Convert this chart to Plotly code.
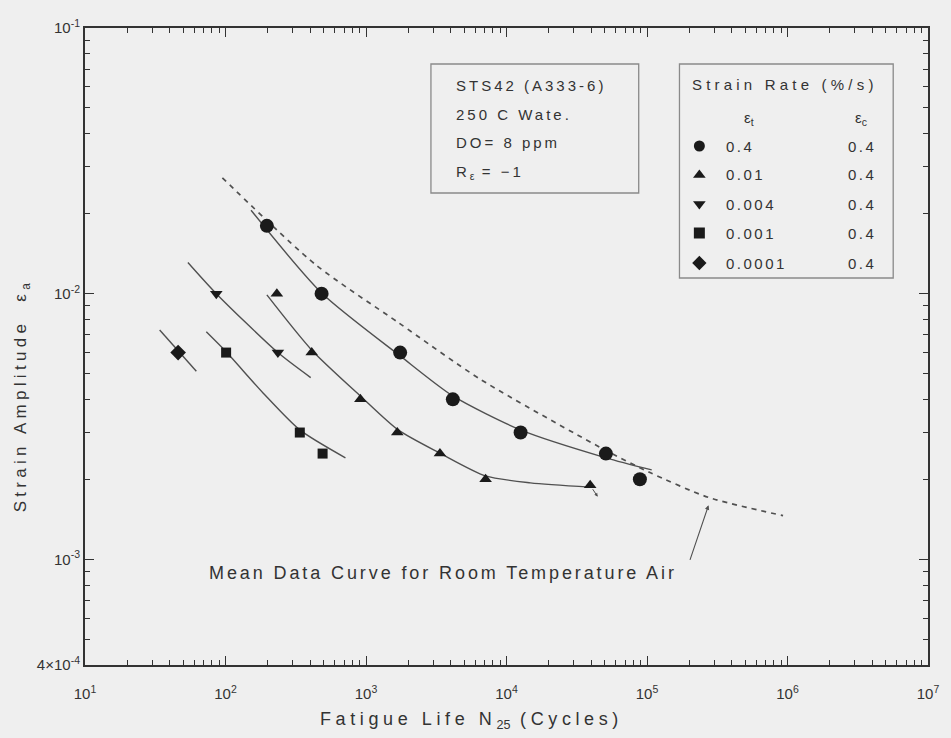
import math
import plotly.graph_objects as go

# ---------------- data ----------------
circ_x = [197, 483, 1750, 4150, 12600, 51000, 89000]
circ_y = [0.018, 0.010, 0.006, 0.004, 0.003, 0.0025, 0.002]
up_x = [232, 411, 912, 1670, 3360, 7100, 39400]
up_y = [0.010, 0.006, 0.004, 0.003, 0.0025, 0.002, 0.0019]
down_x = [86, 236]
down_y = [0.010, 0.006]
sq_x = [101, 338, 491]
sq_y = [0.006, 0.003, 0.0025]
dia_x = [46]
dia_y = [0.006]

circ_fit_x = [152, 483, 1750, 4150, 12560, 51000, 108000]
circ_fit_y = [0.0206, 0.01006, 0.00583, 0.00412, 0.00307, 0.00241, 0.00217]
up_fit_x = [197, 410, 912, 1694, 3357, 7100, 14790, 39300]
up_fit_y = [0.00989, 0.00614, 0.00412, 0.00307, 0.00251, 0.00206, 0.00194, 0.00187]
down_fit_x = [54, 86, 236, 404]
down_fit_y = [0.0131, 0.010, 0.006, 0.00483]
sq_fit_x = [73, 101, 185, 338, 714]
sq_fit_y = [0.00718, 0.00604, 0.00423, 0.00307, 0.00241]
dia_fit_x = [34, 62]
dia_fit_y = [0.0073, 0.0051]

air_x = [95, 438, 1700, 6560, 49500, 105000, 274000, 930000]
air_y = [0.0273, 0.01285, 0.00778, 0.00475, 0.00259, 0.00212, 0.00171, 0.00146]

# run-out mark (end of arrow below last triangle) and pointer arrow tip on the air curve
runout_x, runout_y = 44600, 0.00172
pointer_x, pointer_y = 274000, 0.00171

legend_rates_t = ["0.4", "0.01", "0.004", "0.001", "0.0001"]
legend_rates_c = ["0.4", "0.4", "0.4", "0.4", "0.4"]
legend_symbols = ["circle", "triangle-up", "triangle-down", "square", "diamond"]

x_decades = [1, 2, 3, 4, 5, 6, 7]
x_ticklabels = ["10<sup>1</sup>", "10<sup>2</sup>", "10<sup>3</sup>", "10<sup>4</sup>",
                "10<sup>5</sup>", "10<sup>6</sup>", "10<sup>7</sup>"]
y_tickvals = [4e-4, 1e-3, 1e-2, 1e-1]
y_ticklabels = ["4×10<sup>-4</sup>", "10<sup>-3</sup>", "10<sup>-2</sup>", "10<sup>-1</sup>"]

# ---------------- style ----------------
BG = "#efefef"
INK = "#333333"
LINE = "#505050"
MK = "#1a1a1a"
FONT = "Liberation Sans"

def sp(t, ls=2):
    return f'<span style="letter-spacing:{ls}px">{t}</span>'

info_lines = [sp("STS42 (A333-6)", 3.0), sp("250 C Wate.", 3.0), sp("DO= 8 ppm", 3.0),
              sp("R", 3.0) + "<sub>ε</sub>" + sp(" = −1", 3.0)]

fig = go.Figure()

def line(xs, ys, dash="solid", width=1.4, smooth=0.7):
    fig.add_trace(go.Scatter(x=xs, y=ys, mode="lines",
                             line=dict(color=LINE, width=width, dash=dash, shape="spline", smoothing=smooth),
                             showlegend=False, hoverinfo="skip"))

line(air_x, air_y, dash="5px,5px", width=1.7)
line(circ_fit_x, circ_fit_y)
line(up_fit_x, up_fit_y)
line(down_fit_x, down_fit_y)
line(sq_fit_x, sq_fit_y)
line(dia_fit_x, dia_fit_y)

def pts(xs, ys, sym, size):
    fig.add_trace(go.Scatter(x=xs, y=ys, mode="markers",
                             marker=dict(symbol=sym, size=size, color=MK, line=dict(width=0)),
                             showlegend=False))

pts(circ_x, circ_y, "circle", 14)
pts(up_x, up_y, "triangle-up", 11)
pts(down_x, down_y, "triangle-down", 11)
pts(sq_x, sq_y, "square", 10)
pts(dia_x, dia_y, "diamond", 12)

# minor ticks
x_minor = [m * 10 ** d for d in range(1, 7) for m in range(2, 10)]
y_minor = [m * 10 ** d for d in (-4, -3, -2) for m in range(1, 10) if 4e-4 < m * 10 ** d < 1e-1]

axis_common = dict(ticks="inside", ticklen=9, tickwidth=1.2, tickcolor=INK, showgrid=False, zeroline=False,
                   showline=True, linecolor=INK, linewidth=2, mirror="ticks",
                   tickfont=dict(family=FONT, size=15, color=INK))
fig.update_xaxes(type="log", range=[1, 7], tickvals=[10 ** d for d in x_decades], ticktext=x_ticklabels,
                 minor=dict(tickvals=x_minor, ticks="inside", ticklen=5, tickcolor=INK, showgrid=False),
                 ticklabelstandoff=14, **axis_common)
fig.update_yaxes(type="log", range=[math.log10(4e-4), -1], tickvals=y_tickvals, ticktext=y_ticklabels,
                 minor=dict(tickvals=y_minor, ticks="inside", ticklen=5, tickcolor=INK, showgrid=False),
                 **axis_common)

X0, X1, Y0, Y1 = 85, 933, 28, 665
W, H = 951, 738

def px(xp, yp):
    return (xp - X0) / (X1 - X0), (Y1 - yp) / (Y1 - Y0)

ann = []
def text(t, xp, yp, size=14, xanchor="left"):
    x, y = px(xp, yp)
    ann.append(dict(text=t, x=x, y=y, xref="paper", yref="paper", xanchor=xanchor, yanchor="middle",
                    showarrow=False, font=dict(family=FONT, size=size, color=INK)))

# axis titles
text(sp("Fatigue Life N", 4.6) + "<sub>25</sub>" + sp(" (Cycles)", 4.6), 474, 721, size=18, xanchor="center")
xa, ya = px(22, 397)
ann.append(dict(text=sp("Strain Amplitude  ε", 4.3) + "<sub>a</sub>", x=xa, y=ya, xref="paper", yref="paper",
                textangle=-90, showarrow=False, xanchor="center", yanchor="middle",
                font=dict(family=FONT, size=17, color=INK)))

# mean curve label + arrow
text(sp("Mean Data Curve for Room Temperature Air", 2.9), 208, 573, size=18)
ann.append(dict(x=math.log10(pointer_x), y=math.log10(pointer_y) - 0.03,
                xref="x", yref="y", ax=-19, ay=56, showarrow=True, arrowhead=2, arrowsize=0.8,
                arrowwidth=1.1, arrowcolor=LINE, text=""))
# run-out mark on last triangle
ann.append(dict(x=math.log10(runout_x), y=math.log10(runout_y), xref="x", yref="y",
                ax=-6, ay=-9, showarrow=True, arrowhead=2, arrowsize=0.7, arrowwidth=1,
                arrowcolor=LINE, text=""))

# info box
shapes = []
bx0, by0 = px(433, 64)
bx1, by1 = px(642, 193)
shapes.append(dict(type="rect", xref="paper", yref="paper", x0=bx0, y0=by1, x1=bx1, y1=by0,
                   line=dict(color="#8a8a8a", width=1.3), fillcolor=BG, layer="below"))
for i, t in enumerate(info_lines):
    text(t, 456, 85 + i * 29, size=15)

# strain rate box
lx0, ly0 = px(683, 64)
lx1, ly1 = px(898, 278)
shapes.append(dict(type="rect", xref="paper", yref="paper", x0=lx0, y0=ly1, x1=lx1, y1=ly0,
                   line=dict(color="#8a8a8a", width=1.3), fillcolor=BG, layer="below"))
text(sp("Strain Rate (%/s)", 4.2), 694, 84, size=15)
text("ε<sub>t</sub>", 753, 118, size=15, xanchor="center")
text("ε<sub>c</sub>", 866, 118, size=15, xanchor="center")
row_y = [146, 175, 204, 233, 263]
for i in range(5):
    text(sp(legend_rates_t[i], 2.5), 728, row_y[i], size=15)
    text(sp(legend_rates_c[i], 2.5), 867, row_y[i], size=15, xanchor="center")
    fig.add_trace(go.Scatter(x=[(703 - X0) / (X1 - X0)], y=[(Y1 - row_y[i]) / (Y1 - Y0)],
                             xaxis="x2", yaxis="y2", mode="markers",
                             marker=dict(symbol=legend_symbols[i], size=11, color=MK),
                             showlegend=False, hoverinfo="skip"))

fig.update_layout(
    width=W, height=H,
    margin=dict(l=X0, r=W - X1, t=Y0, b=H - Y1),
    paper_bgcolor=BG, plot_bgcolor=BG,
    showlegend=False,
    annotations=ann, shapes=shapes,
    xaxis2=dict(overlaying="x", range=[0, 1], visible=False, fixedrange=True),
    yaxis2=dict(overlaying="y", range=[0, 1], visible=False, fixedrange=True),
    font=dict(family=FONT, color=INK),
)

fig.write_html("out.html")
